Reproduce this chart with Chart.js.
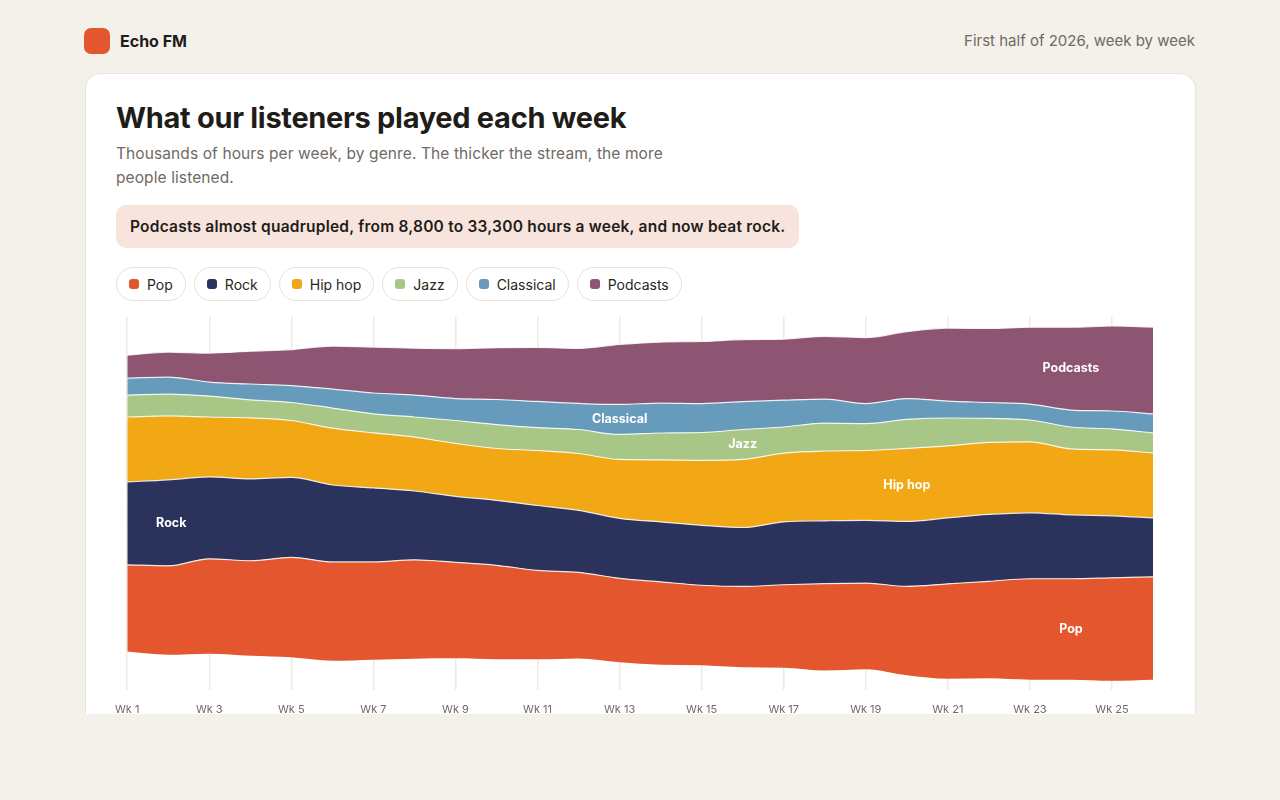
<!DOCTYPE html>
<html><head><meta charset="utf-8">
<script src="https://cdn.jsdelivr.net/npm/chart.js@4.4.1/dist/chart.umd.min.js"></script>
<style>
html,body{margin:0;padding:0;background:#f4f0ea;font-family:Inter,"Noto Sans",sans-serif;width:1280px;height:800px;overflow:hidden}
.logo{position:absolute;left:84px;top:28px;width:26px;height:26px;border-radius:7px;background:#e4572e}
.brand{position:absolute;left:120px;top:30px;font-size:16px;font-weight:700;color:#1f1d1a;line-height:22px}
.period{position:absolute;right:85px;top:31px;font-size:15px;color:#6f6a64;line-height:20px}
.card{position:absolute;left:85px;top:73px;width:1109px;height:640px;background:#fff;border:1px solid #ebe5dc;border-bottom:none;border-radius:16px 16px 0 0;overflow:hidden}
h1{position:absolute;left:30px;top:26px;margin:0;font-size:29px;font-weight:700;color:#1f1d1a;letter-spacing:-0.3px}
.sub{position:absolute;left:30px;top:68px;width:580px;font-size:15.5px;line-height:24px;color:#6f6a64;letter-spacing:0.1px}
.callout{position:absolute;left:30px;top:131px;height:43px;padding:0 14px;background:#f7e4dc;border-radius:10px;font-size:15.5px;font-weight:600;color:#1f1d1a;line-height:43px;white-space:nowrap;letter-spacing:0.22px}
.legend{position:absolute;left:30px;top:193px;display:flex;gap:8px}
.pill{height:32px;border:1px solid #e8e2da;border-radius:17px;padding:0 12px 0 12px;display:flex;align-items:center;font-size:14px;color:#2a2723}
.dot{width:10px;height:10px;border-radius:3px;margin-right:8px}
#wrap{position:absolute;left:16px;top:237px;width:1068px;height:418px}
</style></head><body>
<div class="logo"></div><div class="brand">Echo FM</div>
<div class="period">First half of 2026, week by week</div>
<div class="card">
<h1>What our listeners played each week</h1>
<div class="sub">Thousands of hours per week, by genre. The thicker the stream, the more people listened.</div>
<div class="callout">Podcasts almost quadrupled, from 8,800 to 33,300 hours a week, and now beat rock.</div>
<div class="legend" id="legend"></div>
<div id="wrap"><canvas id="c"></canvas></div>
</div>
<script>
const weeks = Array.from({length:26},(_,i)=>'Wk '+(i+1));
const genres = ['Pop','Rock','Hip hop','Jazz','Classical','Podcasts'];
const colors = ['#e4572e','#2b335c','#f2a814','#a8c686','#669bbc','#8e5572'];
const pop = [33.3,34.1,36.4,36.4,38.3,37.9,37.5,37.9,36.8,36.0,34.1,33.0,32.2,31.8,30.7,31.0,31.8,33.3,33.0,34.1,36.4,37.2,38.7,38.7,39.5,39.5];
const rock = [31.8,33.0,31.4,31.4,30.7,29.5,28.4,26.4,25.3,24.9,24.9,23.8,23.0,23.0,23.0,22.6,24.1,24.1,24.1,24.9,25.3,25.7,25.3,24.5,23.8,22.6];
const hiphop = [24.9,24.5,23.0,23.4,21.8,21.8,21.1,20.7,20.3,19.9,21.1,21.8,22.6,23.8,24.9,26.1,26.4,26.8,26.8,28.0,27.6,27.6,27.2,25.3,25.3,24.9];
const jazz = [8.4,8.4,8.0,6.9,6.9,7.7,7.3,7.7,8.8,9.2,8.8,9.2,9.6,10.3,10.7,11.5,10.0,10.7,10.3,11.1,10.7,9.2,8.4,8.4,8.0,7.7];
const classical = [6.5,6.5,5.4,6.1,6.5,7.3,8.0,8.4,8.4,9.6,10.0,10.0,11.5,11.5,11.1,10.7,10.3,9.2,7.7,8.0,6.5,6.1,6.1,6.5,6.9,7.3];
const podcasts = [8.8,9.6,11.1,12.6,13.8,16.5,17.6,18.0,19.2,19.9,20.7,21.1,23.0,23.4,23.8,23.8,23.4,24.1,25.3,25.7,28.0,28.4,29.5,31.8,32.6,33.3];
const series = [pop,rock,hiphop,jazz,classical,podcasts];
const labelAt = [23,1,19,15,12,23];

const lg=document.getElementById('legend');
genres.forEach((g,i)=>{lg.insertAdjacentHTML('beforeend',`<div class="pill"><span class="dot" style="background:${colors[i]}"></span>${g}</div>`)});

const base = weeks.map((_,i)=>-series.reduce((s,a)=>s+a[i],0)/2);
const datasets=[{label:'base',data:base,borderWidth:0,pointRadius:0,fill:false,cubicInterpolationMode:'monotone'}];
series.forEach((d,i)=>datasets.push({label:genres[i],data:d,backgroundColor:colors[i],borderColor:'rgba(255,255,255,0.85)',borderWidth:1.2,pointRadius:0,fill:'-1',cubicInterpolationMode:'monotone'}));

const labelPlugin={id:'lbl',afterDatasetsDraw(chart){
 const {ctx,scales:{x,y}}=chart;ctx.save();ctx.fillStyle='#fff';ctx.font='700 12.5px Inter, sans-serif';ctx.textAlign='center';ctx.textBaseline='middle';
 series.forEach((d,i)=>{const k=labelAt[i];let lo=base[k];for(let j=0;j<i;j++)lo+=series[j][k];const hi=lo+d[k];
  ctx.fillText(genres[i],x.getPixelForValue(k)+(i===1?3:0),y.getPixelForValue((lo+hi)/2));});
 ctx.restore();}};

new Chart(document.getElementById('c'),{type:'line',data:{labels:weeks,datasets},
options:{responsive:true,maintainAspectRatio:false,animation:false,
 layout:{padding:{left:8,right:17,top:6,bottom:0}},
 plugins:{legend:{display:false},tooltip:{enabled:false},filler:{propagate:false}},
 scales:{y:{display:false,stacked:'single',min:-71.5,max:71.5},
  x:{offset:false,border:{display:false},
   grid:{drawTicks:false,color:c=>c.index%2===0?'#efe9e1':'rgba(0,0,0,0)',lineWidth:1.5},
   ticks:{autoSkip:false,maxRotation:0,padding:13,color:'#6f6a64',font:{size:11,family:'Inter'},callback:(v,i)=>i%2===0?weeks[i]:''}}}},
 plugins:[labelPlugin]});
</script></body></html>
